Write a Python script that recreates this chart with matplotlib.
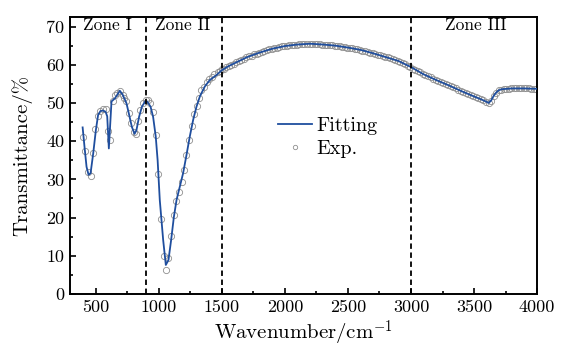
import numpy as np
import matplotlib
matplotlib.use("Agg")
import matplotlib.pyplot as plt
from matplotlib.ticker import MultipleLocator

plt.rcParams["font.family"] = "cmr10"
plt.rcParams["mathtext.fontset"] = "cm"
plt.rcParams["axes.unicode_minus"] = False

# Datos experimentales, zona I-II (puntos separados)
exp_wn_lo = [395, 413, 439, 458, 474, 495, 513, 534, 558, 577,
             598, 611, 632, 651, 669, 690, 712, 727, 743, 762,
             780, 801, 817, 835, 854, 875, 896, 914, 933, 954,
             975, 994, 1018, 1042, 1055, 1073, 1097, 1119, 1134, 1156,
             1180, 1200, 1219, 1240, 1261, 1280, 1299, 1319, 1338, 1359,
             1378, 1399, 1420, 1441, 1465, 1481, 1497]
exp_T_lo = [41.0, 37.5, 32.0, 30.8, 36.9, 43.2, 46.7, 47.9, 48.3, 48.5,
            42.6, 40.4, 50.5, 52.1, 52.7, 53.1, 52.2, 51.4, 50.5, 47.4,
            44.8, 42.3, 42.0, 45.2, 48.1, 50.1, 50.7, 50.7, 49.9, 47.6,
            41.7, 31.5, 19.7, 9.9, 6.3, 9.3, 15.3, 20.7, 24.3, 26.6,
            29.2, 32.5, 36.5, 40.4, 44.1, 47.2, 49.3, 51.4, 53.4, 54.2,
            55.5, 56.2, 56.9, 57.5, 58.1, 58.4, 58.8]

# Datos experimentales desde 1515 cada 20 cm-1
exp_T_hi = [59.0, 59.3, 59.6, 59.9, 60.3, 60.6, 60.9, 61.2, 61.6, 61.9,
            62.2, 62.4, 62.7, 62.9, 63.2, 63.4, 63.6, 63.8, 64.0, 64.2,
            64.4, 64.5, 64.6, 64.8, 64.9, 65.0, 65.1, 65.2, 65.3, 65.3,
            65.4, 65.4, 65.5, 65.5, 65.5, 65.5, 65.5, 65.4, 65.4, 65.3,
            65.3, 65.2, 65.1, 65.1, 65.0, 64.9, 64.8, 64.7, 64.6, 64.5,
            64.4, 64.3, 64.2, 64.0, 63.9, 63.7, 63.6, 63.4, 63.2, 63.0,
            62.8, 62.6, 62.5, 62.3, 62.1, 61.9, 61.7, 61.5, 61.3, 61.0,
            60.8, 60.5, 60.2, 59.8, 59.4, 59.0, 58.7, 58.3, 58.0, 57.6,
            57.3, 57.0, 56.7, 56.4, 56.1, 55.8, 55.5, 55.2, 55.0, 54.7,
            54.4, 54.1, 53.8, 53.5, 53.2, 52.9, 52.6, 52.3, 52.0, 51.8,
            51.6, 51.3, 51.0, 50.7, 50.3, 50.0, 50.6, 51.8, 52.7, 53.3,
            53.5, 53.6, 53.7, 53.7, 53.8, 53.8, 53.8, 53.8, 53.8, 53.8,
            53.8, 53.8, 53.7, 53.7, 53.7]
exp_wn_hi = 1515 + 20 * np.arange(len(exp_T_hi))

# Curva de ajuste
fit_wn = [395, 410, 426, 442, 458, 479, 500, 518, 537, 558,
          577, 590, 603, 624, 651, 669, 690, 712, 743, 764,
          785, 807, 822, 843, 865, 891, 907, 934, 954, 975,
          990, 1007, 1034, 1055, 1076, 1097, 1119, 1140, 1166, 1192,
          1219, 1245, 1272, 1298, 1325, 1364, 1404, 1457, 1497, 1550,
          1600, 1700, 1800, 1900, 2000, 2100, 2200, 2300, 2400, 2500,
          2600, 2700, 2800, 2900, 3000, 3100, 3200, 3300, 3400, 3500,
          3560, 3600, 3615, 3635, 3655, 3675, 3695, 3720, 3800, 3900, 4000]
fit_T = [43.6, 38.5, 33.3, 31.2, 31.6, 36.8, 42.9, 46.9, 47.9, 48.0,
         47.7, 46.5, 38.1, 50.4, 51.2, 52.1, 53.2, 52.2, 49.9, 46.9,
         43.8, 41.9, 42.9, 46.4, 49.0, 50.4, 50.4, 49.0, 46.4, 41.2,
         35.0, 24.6, 14.1, 7.6, 8.9, 14.1, 20.2, 24.6, 28.1, 31.6,
         36.4, 41.2, 45.6, 49.0, 51.7, 54.3, 56.0, 57.3, 58.5, 59.6,
         60.4, 62.0, 63.2, 64.2, 64.9, 65.3, 65.5, 65.3, 65.0, 64.5,
         63.9, 63.0, 62.0, 61.0, 59.4, 57.5, 56.0, 54.6, 53.1, 51.7,
         50.9, 50.3, 50.0, 50.6, 51.8, 52.7, 53.3, 53.6, 53.8, 53.8, 53.7]

zonas = [895, 1500, 3000]
zona_textos = ["Zone I", "Zone II", "Zone III"]
zona_pos = [595, 1186, 3517]

exp_wn = np.concatenate([exp_wn_lo, exp_wn_hi])
exp_T = np.concatenate([exp_T_lo, exp_T_hi])

fig = plt.figure(figsize=(5.62, 3.49), dpi=100)
ax = fig.add_axes([0.1246, 0.1576, 0.831, 0.7937])

ax.plot(fit_wn, fit_T, color="#1f4e9e", lw=1.3, label="Fitting", zorder=3)
ax.plot(exp_wn, exp_T, ls="none", marker="o", ms=4.5, mfc="none",
        mec="#8f8f8f", mew=0.6, label="Exp.", zorder=2)

for xz in zonas:
    ax.axvline(xz, color="black", ls=(0, (3, 2)), lw=1.3, zorder=4)
for txt, xp in zip(zona_textos, zona_pos):
    ax.text(xp, 70.4, txt, ha="center", va="center", fontsize=12.5)

ax.set_xlim(295, 4000)
ax.set_ylim(0, 72.5)
ax.xaxis.set_major_locator(MultipleLocator(500))
ax.xaxis.set_minor_locator(MultipleLocator(250))
ax.yaxis.set_major_locator(MultipleLocator(10))
ax.yaxis.set_minor_locator(MultipleLocator(5))
ax.tick_params(which="both", direction="in", labelsize=13, width=1.2)
ax.tick_params(which="major", length=4, pad=4)
ax.tick_params(which="minor", length=2.5)
for s in ax.spines.values():
    s.set_linewidth(1.4)

ax.set_xlabel(r"Wavenumber/cm$^{-1}$", fontsize=15, labelpad=3)
ax.set_ylabel("Transmittance/%", fontsize=15, labelpad=10)

ax.legend(loc="center left", bbox_to_anchor=(0.445, 0.565), frameon=False,
          fontsize=14.5, handlelength=1.7, handletextpad=0.2, borderpad=0,
          borderaxespad=0, labelspacing=0.2, markerscale=0.7)

plt.savefig("out.png", dpi=100)
plt.close()
